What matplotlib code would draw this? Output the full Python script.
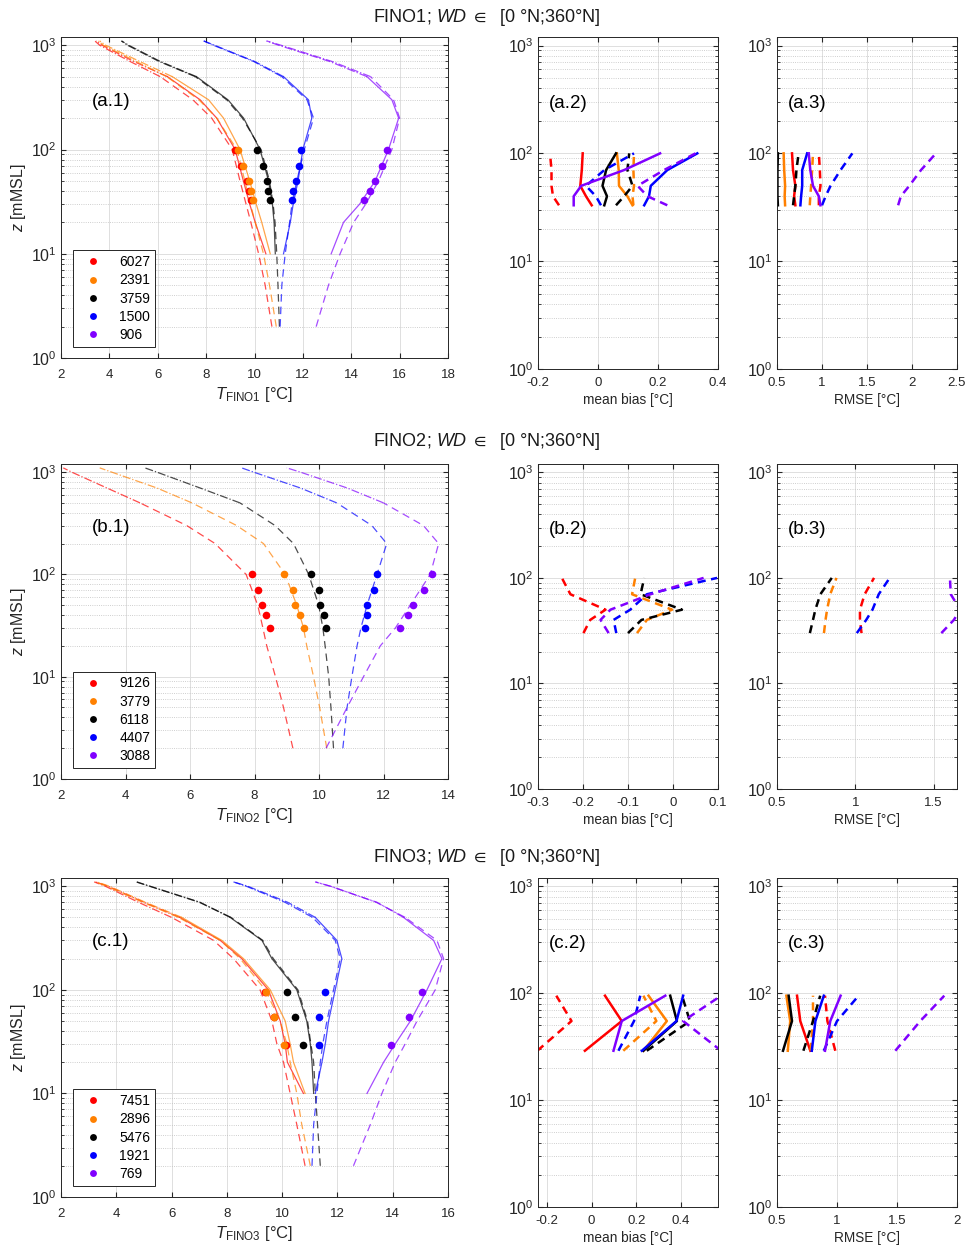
import numpy as np
import matplotlib
matplotlib.use("Agg")
import matplotlib.pyplot as plt
from matplotlib.ticker import FuncFormatter, LogLocator, NullFormatter

plt.rcParams['font.family'] = ['Liberation Sans', 'DejaVu Sans']
plt.rcParams['mathtext.fontset'] = 'custom'
plt.rcParams['mathtext.rm'] = 'Liberation Sans'
plt.rcParams['mathtext.it'] = 'Liberation Sans:italic'
plt.rcParams['mathtext.fallback'] = 'stixsans'
plt.rcParams['axes.unicode_minus'] = False

colors = ['#ff0000', '#ff8000', '#000000', '#0000ff', '#8000ff']
nan = np.nan

# Hoehen der Modellprofile [m]
z_prof = [2, 5, 10, 20, 30, 50, 100, 200, 300, 500, 700, 1000, 1100]

# ---------------- FINO1 ----------------
a_counts = [6027, 2391, 3759, 1500, 906]
a_z_obs = [33, 40, 50, 70, 100]
a_T_obs = [[9.85, 9.79, 9.68, 9.43, 9.2],
           [9.93, 9.85, 9.77, 9.54, 9.31],
           [10.63, 10.57, 10.5, 10.36, 10.12],
           [11.57, 11.61, 11.71, 11.83, 11.93],
           [14.54, 14.79, 14.99, 15.27, 15.48]]
a_T_dashed = [[10.72, 10.44, 10.17, 9.85, 9.65, 9.40, 9.08, 8.23, 7.45, 6.1, 4.85, 3.6, 3.4],
              [10.9, 10.62, 10.37, 10.03, 9.83, 9.6, 9.27, 8.44, 7.7, 6.37, 5.1, 3.75, 3.55],
              [11.03, 10.97, 10.92, 10.85, 10.77, 10.62, 10.27, 9.5, 8.85, 7.55, 6.05, 4.75, 4.5],
              [11.06, 11.13, 11.27, 11.45, 11.55, 11.75, 12.06, 12.44, 12.17, 11.13, 9.96, 8.3, 7.9],
              [12.55, 13.06, 13.54, 14.1, 14.6, 15.13, 15.68, 16.0, 15.75, 14.8, 13.2, 11.1, 10.5]]
a_T_solid = [[nan, nan, 10.47, 10.03, 9.8, 9.54, 9.2, 8.44, 7.75, 6.4, 5.0, 3.7, 3.45],
             [nan, nan, 10.65, 10.3, 10.07, 9.8, 9.4, 8.72, 8.1, 6.6, 5.25, 3.85, 3.6],
             [nan, nan, 10.86, 10.81, 10.74, 10.58, 10.23, 9.55, 8.9, 7.6, 6.1, 4.8, 4.5],
             [nan, nan, 11.2, 11.48, 11.6, 11.8, 12.0, 12.37, 12.23, 11.2, 10.0, 8.35, 7.9],
             [nan, nan, 13.17, 13.68, 14.35, 14.99, 15.54, 15.96, 15.68, 14.65, 13.1, 11.0, 10.5]]
a_bias_solid = [[-0.021, -0.040, -0.059, -0.054, -0.051],
                [0.115, 0.098, 0.07, 0.069, 0.063],
                [0.021, 0.03, 0.015, 0.027, 0.06],
                [0.154, 0.17, 0.176, 0.231, 0.331],
                [-0.081, -0.081, -0.056, 0.087, 0.207]]
a_bias_dashed = [[-0.13, -0.15, -0.155, -0.155, -0.16],
                 [0.118, 0.115, 0.12, 0.118, 0.12],
                 [0.06, 0.087, 0.115, 0.098, 0.104],
                 [0.01, -0.007, -0.04, 0.021, 0.12],
                 [0.231, 0.165, 0.132, 0.22, 0.325]]
a_rmse_solid = [[0.704, 0.69, 0.704, 0.678, 0.667],
                [0.59, 0.585, 0.59, 0.58, 0.574],
                [0.51, 0.505, 0.505, 0.505, 0.51],
                [0.76, 0.768, 0.78, 0.78, 0.835],
                [0.983, 0.965, 0.9, 0.87, 0.853]]
a_rmse_dashed = [[0.965, 0.965, 0.983, 0.976, 0.965],
                 [0.864, 0.87, 0.879, 0.89, 0.9],
                 [0.678, 0.69, 0.704, 0.716, 0.74],
                 [1.0, 1.04, 1.095, 1.206, 1.337],
                 [1.846, 1.876, 1.97, 2.1, 2.266]]

# ---------------- FINO2 ----------------
b_counts = [9126, 3779, 6118, 4407, 3088]
b_z_obs = [30, 40, 50, 70, 100]
b_T_obs = [[8.49, 8.36, 8.23, 8.12, 7.92],
           [9.52, 9.42, 9.27, 9.18, 8.9],
           [10.22, 10.14, 10.04, 9.99, 9.75],
           [11.43, 11.49, 11.49, 11.69, 11.8],
           [12.52, 12.76, 12.91, 13.27, 13.5]]
b_T_dashed = [[9.19, 8.9, 8.65, 8.38, 8.26, 8.1, 7.74, 6.78, 5.9, 4.45, 3.42, 2.33, 2.07],
              [10.24, 10.02, 9.83, 9.62, 9.52, 9.31, 8.95, 8.28, 7.45, 6.06, 4.97, 3.57, 3.2],
              [10.45, 10.37, 10.3, 10.19, 10.12, 9.99, 9.68, 9.21, 8.64, 7.55, 6.31, 4.97, 4.6],
              [10.74, 10.87, 11.02, 11.18, 11.3, 11.49, 11.8, 12.1, 11.64, 10.55, 9.42, 7.97, 7.6],
              [10.22, 10.87, 11.38, 11.9, 12.37, 12.83, 13.45, 13.71, 13.24, 12.0, 10.87, 9.42, 9.0]]
b_T_solid = None
b_bias_solid = None
b_bias_dashed = [[-0.199, -0.184, -0.15, -0.228, -0.247],
                 [-0.08, -0.058, -0.002, -0.091, -0.084],
                 [-0.1, -0.07, 0.02, -0.072, -0.064],
                 [-0.126, -0.132, -0.095, -0.058, 0.098],
                 [-0.143, -0.161, -0.139, -0.05, 0.068]]
b_rmse_solid = None
b_rmse_dashed = [[1.04, 1.03, 1.03, 1.06, 1.12],
                 [0.8, 0.81, 0.82, 0.84, 0.88],
                 [0.71, 0.73, 0.745, 0.777, 0.85],
                 [1.01, 1.07, 1.11, 1.15, 1.22],
                 [1.55, 1.63, 1.67, 1.61, 1.605]]

# ---------------- FINO3 ----------------
c_counts = [7451, 2896, 5476, 1921, 769]
c_z_obs = [29, 55, 95]
c_T_obs = [[10.15, 9.71, 9.39],
           [10.07, 9.69, 9.41],
           [10.77, 10.45, 10.17],
           [11.32, 11.35, 11.56],
           [13.94, 14.58, 15.06]]
c_T_dashed = [[10.83, 10.53, 10.29, 10.05, 9.81, 9.63, 9.2, 8.24, 7.52, 6.0, 4.8, 3.6, 3.2],
              [11.02, 10.71, 10.53, 10.29, 10.17, 9.93, 9.39, 8.48, 7.76, 6.25, 4.95, 3.65, 3.25],
              [11.38, 11.28, 11.2, 11.14, 11.04, 10.92, 10.57, 9.68, 9.3, 8.15, 7.0, 5.2, 4.72],
              [11.08, 11.14, 11.26, 11.38, 11.47, 11.62, 11.86, 12.1, 11.92, 11.1, 10.1, 8.7, 8.24],
              [12.58, 13.19, 13.61, 14.09, 14.45, 14.88, 15.54, 15.84, 15.6, 14.45, 13.4, 11.75, 11.2]]
c_T_solid = [[nan, nan, 10.77, 10.19, 10.11, 9.93, 9.5, 8.54, 7.76, 6.3, 5.0, 3.7, 3.25],
             [nan, nan, 10.83, 10.41, 10.29, 10.11, 9.57, 8.6, 7.82, 6.37, 5.05, 3.75, 3.3],
             [nan, nan, 11.14, 11.08, 11.02, 10.89, 10.53, 9.63, 9.27, 8.12, 7.03, 5.22, 4.74],
             [nan, nan, 11.2, 11.44, 11.56, 11.68, 11.92, 12.16, 11.98, 11.2, 10.2, 8.75, 8.24],
             [nan, nan, 13.07, 13.67, 14.09, 14.64, 15.24, 15.78, 15.48, 14.39, 13.43, 11.74, 11.2]]
c_bias_solid = [[-0.03, 0.135, 0.06],
                [0.232, 0.337, 0.255],
                [0.232, 0.382, 0.352],
                [0.225, 0.38, 0.41],
                [0.098, 0.135, 0.33]]
c_bias_dashed = [[-0.243, -0.09, -0.158],
                 [0.142, 0.29, 0.232],
                 [0.247, 0.44, 0.405],
                 [0.12, 0.19, 0.218],
                 [0.58, 0.41, 0.58]]
c_rmse_solid = [[0.778, 0.694, 0.667],
                [0.59, 0.61, 0.578],
                [0.55, 0.625, 0.597],
                [0.79, 0.82, 0.89],
                [0.9, 0.944, 1.03]]
c_rmse_dashed = [[0.986, 0.92, 0.9],
                 [0.78, 0.8, 0.8],
                 [0.72, 0.8, 0.86],
                 [0.89, 1.0, 1.18],
                 [1.486, 1.694, 1.894]]

rows = [
    dict(site='FINO1', tag='a', counts=a_counts, z_obs=a_z_obs, T_obs=a_T_obs,
         T_d=a_T_dashed, T_s=a_T_solid, bias_s=a_bias_solid, bias_d=a_bias_dashed,
         rmse_s=a_rmse_solid, rmse_d=a_rmse_dashed,
         xl1=(2, 18), xt1=np.arange(2, 19, 2), xl2=(-0.2, 0.4), xt2=[-0.2, 0, 0.2, 0.4],
         xl3=(0.5, 2.5), xt3=[0.5, 1, 1.5, 2, 2.5],
         top=37, bot1=358, bot2=369, title_y=18),
    dict(site='FINO2', tag='b', counts=b_counts, z_obs=b_z_obs, T_obs=b_T_obs,
         T_d=b_T_dashed, T_s=b_T_solid, bias_s=b_bias_solid, bias_d=b_bias_dashed,
         rmse_s=b_rmse_solid, rmse_d=b_rmse_dashed,
         xl1=(2, 14), xt1=np.arange(2, 15, 2), xl2=(-0.3, 0.1), xt2=[-0.3, -0.2, -0.1, 0, 0.1],
         xl3=(0.5, 1.65), xt3=[0.5, 1, 1.5],
         top=464, bot1=779, bot2=789, title_y=441),
    dict(site='FINO3', tag='c', counts=c_counts, z_obs=c_z_obs, T_obs=c_T_obs,
         T_d=c_T_dashed, T_s=c_T_solid, bias_s=c_bias_solid, bias_d=c_bias_dashed,
         rmse_s=c_rmse_solid, rmse_d=c_rmse_dashed,
         xl1=(2, 16), xt1=np.arange(2, 17, 2), xl2=(-0.24, 0.566), xt2=[-0.2, 0, 0.2, 0.4],
         xl3=(0.5, 2.0), xt3=[0.5, 1, 1.5, 2],
         top=878, bot1=1197, bot2=1207, title_y=858),
]

W, H = 976, 1259
fig = plt.figure(figsize=(W / 100, H / 100), dpi=100)
fmt = FuncFormatter(lambda v, p: '%g' % round(v, 3))
zp = np.array(z_prof, float)


def style_axes(ax, xlim, xticks, xpad):
    ax.set_yscale('log')
    ax.set_ylim(1, 1200)
    ax.set_xlim(*xlim)
    ax.set_xticks(xticks)
    ax.xaxis.set_major_formatter(fmt)
    ax.yaxis.set_major_locator(LogLocator(base=10, numticks=10))
    ax.yaxis.set_minor_locator(LogLocator(base=10, subs=np.arange(2, 10), numticks=20))
    ax.yaxis.set_minor_formatter(NullFormatter())
    ax.grid(True, which='major', color='0.87', lw=0.7)
    ax.grid(True, which='minor', axis='y', color='0.75', ls=':', lw=0.6)
    ax.set_axisbelow(True)
    ax.tick_params(which='both', direction='in', top=True, right=True, colors='0.15',
                   labelcolor='0.15')
    ax.tick_params(axis='x', labelsize=9.5, pad=xpad)
    ax.tick_params(axis='y', labelsize=11.5, pad=3)
    ax.tick_params(which='major', length=3.5)
    ax.tick_params(which='minor', length=2)
    for s in ax.spines.values():
        s.set_color('0.15')
        s.set_linewidth(0.7)


for r in rows:
    h1 = (r['bot1'] - r['top']) / H
    h2 = (r['bot2'] - r['top']) / H
    ax1 = fig.add_axes([61 / W, 1 - r['bot1'] / H, 387 / W, h1])
    ax2 = fig.add_axes([538 / W, 1 - r['bot2'] / H, 180 / W, h2])
    ax3 = fig.add_axes([777 / W, 1 - r['bot2'] / H, 180 / W, h2])

    # Profile
    low = zp <= 500
    high = zp >= 500
    for i, c in enumerate(colors):
        for T_all, ls in ((r['T_d'], '--'), (r['T_s'], '-')):
            if T_all is None:
                continue
            T = np.array(T_all[i], float)
            ax1.plot(T[low], zp[low], ls=ls, color=c, lw=0.9, alpha=0.7,
                     dashes=(6, 4) if ls == '--' else (None, None))
            ax1.plot(T[high], zp[high], ls='-.', color=c, lw=0.9, alpha=0.7)
    for i, c in enumerate(colors):
        ax1.plot(r['T_obs'][i], r['z_obs'], 'o', color=c, ms=5.5, mec='none',
                 label=str(r['counts'][i]))

    # mean bias / RMSE
    for ax, ks, kd in ((ax2, 'bias_s', 'bias_d'), (ax3, 'rmse_s', 'rmse_d')):
        for i, c in enumerate(colors):
            if r[kd] is not None:
                ax.plot(r[kd][i], r['z_obs'], color=c, lw=1.8, ls='--', dashes=(3.2, 2.2))
            if r[ks] is not None:
                ax.plot(r[ks][i], r['z_obs'], color=c, lw=1.8, ls='-')

    style_axes(ax1, r['xl1'], r['xt1'], 8)
    style_axes(ax2, r['xl2'], r['xt2'], 5.5)
    style_axes(ax3, r['xl3'], r['xt3'], 5.5)

    ax1.set_ylabel(r'$z$ [mMSL]', fontsize=11.5, color='0.15', labelpad=2)
    ax1.set_xlabel(r'$T_{\mathrm{' + r['site'] + r'}}$ [°C]', fontsize=12, color='0.15', labelpad=3)
    ax2.set_xlabel('mean bias [°C]', fontsize=9.8, color='0.15', labelpad=3)
    ax3.set_xlabel('RMSE [°C]', fontsize=9.8, color='0.15', labelpad=3)

    ax1.text(0.08, 290, '(%s.1)' % r['tag'], transform=ax1.get_yaxis_transform(),
             fontsize=13.5, va='center', ha='left')
    ax2.text(0.06, 290, '(%s.2)' % r['tag'], transform=ax2.get_yaxis_transform(),
             fontsize=13.5, va='center', ha='left')
    ax3.text(0.06, 290, '(%s.3)' % r['tag'], transform=ax3.get_yaxis_transform(),
             fontsize=13.5, va='center', ha='left')

    leg = ax1.legend(loc='lower left', bbox_to_anchor=(0.03, 0.035), borderaxespad=0,
                     fontsize=10, fancybox=False, edgecolor='0.15', framealpha=1,
                     handlelength=2.2, handletextpad=0.8, borderpad=0.35,
                     labelspacing=0.3, markerscale=0.9)
    leg.get_frame().set_linewidth(0.7)

    fig.text(0.499, 1 - r['title_y'] / H,
             r['site'] + r'; $\mathit{WD}$ $\in$  [0 °N;360°N]',
             ha='center', va='center', fontsize=13, color='0.1')

fig.savefig('out.png', dpi=100)
